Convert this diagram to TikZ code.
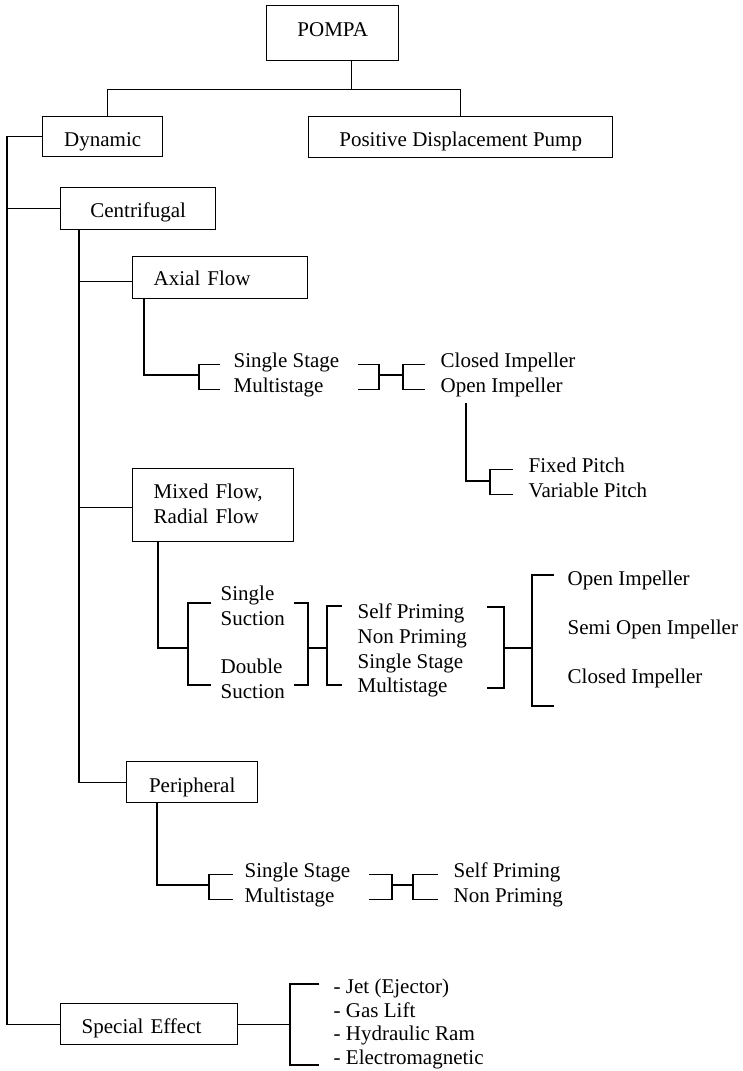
\documentclass[tikz,border=0pt]{standalone}
\usepackage{fontspec}
\setmainfont{Liberation Serif}
\usetikzlibrary{calc}
\newcommand{\chartfont}{\fontsize{21}{25}\selectfont}
\tikzset{
  box/.style = {draw, rectangle, anchor=north west, inner sep=0pt, text depth=0pt, font=\chartfont},
  leftbox/.style = {box, align=left, inner xsep=21pt},
  item/.style = {anchor=base west, inner sep=0pt, font=\chartfont},
  twoline/.style = {item, align=left, text width=#1}
}

\begin{document}
\begin{tikzpicture}[x=1pt, y=-1pt, line width=1.4pt]
\useasboundingbox (0,0) rectangle (742,1071);
% boxes
\node[box, minimum width=132, minimum height=55, text height=7pt] (pompa) at (266,5) {POMPA};
\node[box, minimum width=120, minimum height=40, text height=20pt] (dyn) at (42,116) {Dynamic};
\node[box, minimum width=304, minimum height=41, text height=19pt] (pdp) at (308,116) {Positive Displacement Pump};
\node[box, minimum width=155, minimum height=42, text height=18pt] (cen) at (60,187) {Centrifugal};
\node[leftbox, text width=133pt, minimum height=42, text height=16pt] (axial) at (132,256) {Axial Flow};
\node[leftbox, text width=119pt, minimum height=73, text height=15pt, text depth=28pt] (mixed) at (132,468) {Mixed Flow,\\Radial Flow};
\node[box, minimum width=131, minimum height=41, text height=21pt] (peri) at (126,761) {Peripheral};
\node[leftbox, text width=135pt, minimum height=41, text height=19pt] (spec) at (60,1003) {Special Effect};

% top level
\draw ([xshift=19pt]pompa.south) -- ++(0,28) coordinate (split);
\draw ([xshift=5pt]dyn.north) |- (split) -| (pdp.north);
\draw (dyn.west) -- ++(-35,0) |- (spec.west);
\draw (cen.west) -- ++(-53,0);
\draw ([xshift=19pt]cen.south west) |- (peri.west);
\draw ([yshift=-4pt]axial.west) -- ++(-53,0);
\draw ([yshift=-2pt]mixed.west) -- ++(-53,0);

% axial flow
\node[item] (as1) at (233,367) {Single Stage};
\node[item] (as2) at (233,392) {Multistage};
\node[item] (ai1) at (440,367) {Closed Impeller};
\node[item] (ai2) at (440,392) {Open Impeller};
\node[item] (fp1) at (528,472) {Fixed Pitch};
\node[item] (fp2) at (528,497) {Variable Pitch};
\coordinate (ja) at (199,375);
\coordinate (ka) at (379,375);
\coordinate (jb) at (403,375);
\coordinate (jc) at (490,481);
\draw ([xshift=12pt]axial.south west) |- (ja);
\draw ([xshift=-13pt]as1.mid west) -| (ja) |- ([xshift=-13pt]as2.mid west);
\draw ([xshift=125pt]as1.mid west) -| (ka) |- ([xshift=125pt]as2.mid west);
\draw (ka) -- (jb);
\draw ([xshift=-15pt]ai1.mid west) -| (jb) |- ([xshift=-15pt]ai2.mid west);
\draw ([shift={(26,6)}]ai2.south west) |- (jc);
\draw ([xshift=-15pt]fp1.mid west) -| (jc) |- ([xshift=-15pt]fp2.mid west);

% mixed flow, radial flow
\node[twoline=70pt] (su1) at (220,600) {Single\\Suction};
\node[twoline=70pt] (su2) at (220,673) {Double\\Suction};
\node[item] (pr1) at (357,618) {Self Priming};
\node[item] (pr2) at (357,643) {Non Priming};
\node[item] (pr3) at (357,668) {Single Stage};
\node[item] (pr4) at (357,692) {Multistage};
\node[item] (oi1) at (567,585) {Open Impeller};
\node[item] (oi2) at (567,634) {Semi Open Impeller};
\node[item] (oi3) at (567,683) {Closed Impeller};
\coordinate (jd) at (188,648);
\coordinate (kd) at (308,648);
\coordinate (je) at (327,648);
\coordinate (kf) at (504,648);
\coordinate (jg) at (532,648);
\draw ([xshift=26pt]mixed.south west) |- (jd);
\draw ([shift={(-9,3)}]su1.base west) -| (jd) |- ([shift={(-9,12)}]su2.base west);
\draw ([shift={(74,3)}]su1.base west) -| (kd) |- ([shift={(74,12)}]su2.base west);
\draw (kd) -- (je);
\draw ([shift={(-15,-12)}]pr1.base west) -| (je) |- ([shift={(-15,-7)}]pr4.base west);
\draw ([shift={(130,-11)}]pr1.base west) -| (kf) |- ([shift={(130,-4)}]pr4.base west);
\draw (kf) -- (jg);
\draw ([shift={(-13,-10)}]oi1.base west) -| (jg) |- ([shift={(-13,23)}]oi3.base west);

% peripheral
\node[item] (ps1) at (244,877) {Single Stage};
\node[item] (ps2) at (244,902) {Multistage};
\node[item] (pp1) at (453,877) {Self Priming};
\node[item] (pp2) at (453,902) {Non Priming};
\coordinate (jh) at (209,885);
\coordinate (kh) at (392,885);
\coordinate (ji) at (413,885);
\draw ([xshift=31pt]peri.south west) |- (jh);
\draw ([xshift=-11pt]ps1.mid west) -| (jh) |- ([xshift=-11pt]ps2.mid west);
\draw ([xshift=125pt]ps1.mid west) -| (kh) |- ([xshift=125pt]ps2.mid west);
\draw (kh) -- (ji);
\draw ([xshift=-15pt]pp1.mid west) -| (ji) |- ([xshift=-15pt]pp2.mid west);

% special effect
\node[item] (se1) at (333,993) {- Jet (Ejector)};
\node[item] (se2) at (333,1017) {- Gas Lift};
\node[item] (se3) at (333,1040) {- Hydraulic Ram};
\node[item] (se4) at (333,1064) {- Electromagnetic};
\coordinate (jk) at (290,1022);
\draw (spec.east) -- (spec.east -| jk);
\draw ([shift={(-14,-9)}]se1.base west) -| (jk) |- ([shift={(-14,1)}]se4.base west);
\end{tikzpicture}
\end{document}
